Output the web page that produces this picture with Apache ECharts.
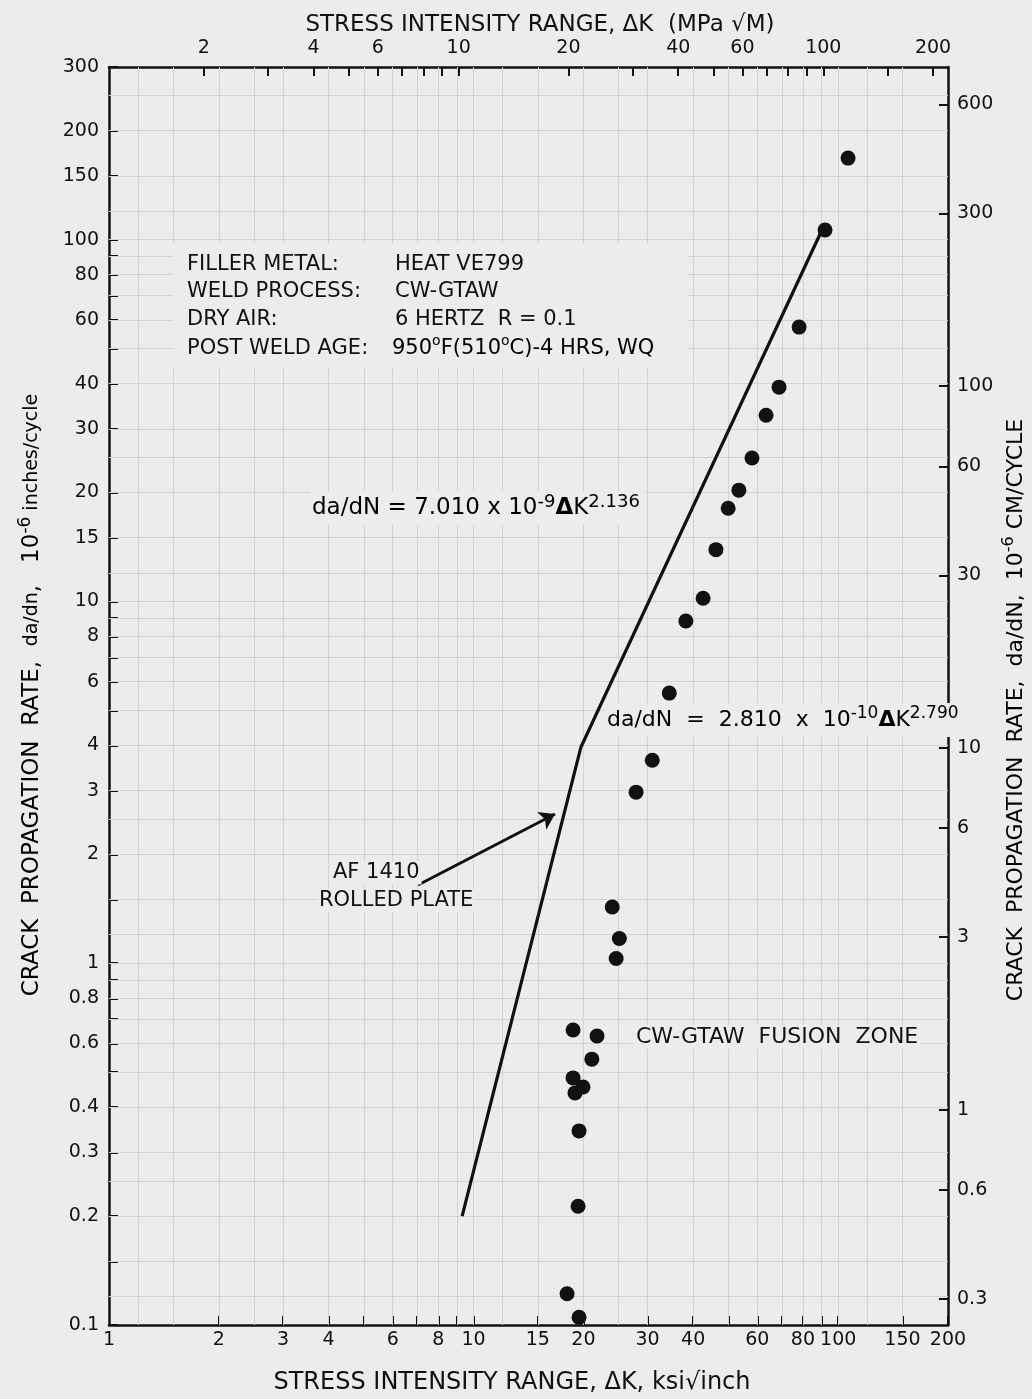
<!DOCTYPE html>
<html>
<head>
<meta charset="utf-8">
<script src="https://cdn.jsdelivr.net/npm/echarts@6/dist/echarts.min.js"></script>
<style>
html,body{margin:0;padding:0;background:#ececea;}
#c{width:1032px;height:1399px;}
</style>
</head>
<body>
<div id="c"></div>
<script>
// ---- data ----
const fusionDK = [106.4, 92.0, 78.1, 68.8, 63.4, 58.0, 53.4, 49.9, 46.2, 42.6, 38.2, 34.4, 30.9, 27.9, 24.0, 25.1, 24.6, 18.74, 21.8, 21.1, 18.74, 19.95, 18.97, 19.46, 19.34, 18.04, 19.46];
const fusionRate = [168, 106.3, 57.3, 39.1, 32.7, 24.9, 20.3, 18.1, 13.9, 10.2, 8.83, 5.58, 3.64, 2.97, 1.43, 1.17, 1.03, 0.654, 0.629, 0.543, 0.482, 0.455, 0.438, 0.344, 0.213, 0.122, 0.105];
const plateDK = [9.3, 19.7, 89.7];
const plateRate = [0.2, 3.96, 105];
const arrowFrom = [7.04, 1.645];
const arrowTo = [16.72, 2.585];

const bottomLabels = [1, 2, 3, 4, 6, 8, 10, 15, 20, 30, 40, 60, 80, 100, 150, 200];
const bottomTicks = [2, 3, 4, 5, 6, 7, 8, 9, 10, 15, 20, 30, 40, 50, 60, 70, 80, 90, 100, 150, 200];
const leftLabels = [0.1, 0.2, 0.3, 0.4, 0.6, 0.8, 1, 2, 3, 4, 6, 8, 10, 15, 20, 30, 40, 60, 80, 100, 150, 200, 300];
const leftTicks = [0.1, 0.15, 0.2, 0.3, 0.4, 0.5, 0.6, 0.7, 0.8, 0.9, 1, 1.5, 2, 3, 4, 5, 6, 7, 8, 9, 10, 15, 20, 30, 40, 50, 60, 70, 80, 90, 100, 150, 200, 300];
const topLabels = [2, 4, 6, 10, 20, 40, 60, 100, 200];
const topTicks = [2, 3, 4, 5, 6, 7, 8, 9, 10, 20, 30, 40, 50, 60, 70, 80, 90, 100, 150, 200];
const rightLabels = [0.3, 0.6, 1, 3, 6, 10, 30, 60, 100, 300, 600];
const gridMult = [1, 1.2, 1.5, 2, 2.5, 3, 4, 5, 6, 7, 8, 9];

const KSI_TO_MPA = 1.0988;   // ksi*sqrt(in) -> MPa*sqrt(m)
const IN_TO_CM = 2.54;

// ---- build ----
const fusionData = fusionDK.map((x, i) => [x, fusionRate[i]]);
const plateData = plateDK.map((x, i) => [x, plateRate[i]]);
function gridVals(decades, max) {
  const out = [];
  decades.forEach(d => gridMult.forEach(m => { const v = +(d * m).toPrecision(6); if (v <= max) out.push(v); }));
  return out;
}
const gridX = gridVals([1, 10, 100], 200).filter(v => v > 1 && v < 200);
const gridY = gridVals([0.1, 1, 10, 100], 300).filter(v => v > 0.1 && v < 300);
const fmt = v => String(+Number(v).toPrecision(6));

const FONT = 'DejaVu Sans';
const INK = '#111111';
const BG = '#ececea';

const chart = echarts.init(document.getElementById('c'), null, {renderer: 'canvas'});

function axisCommon(labels, ticks, pos) {
  return {
    type: 'log', logBase: 10, position: pos,
    axisLine: {show: true, onZero: false, lineStyle: {color: INK, width: 2.5}},
    axisTick: {show: true, inside: true, length: 9, lineStyle: {color: INK, width: 2}, customValues: ticks},
    axisLabel: {show: true, customValues: labels, formatter: v => fmt(v), color: INK, fontFamily: FONT, fontSize: 19},
    splitLine: {show: false}, minorTick: {show: false}, minorSplitLine: {show: false}
  };
}

const xBottom = Object.assign(axisCommon(bottomLabels, bottomTicks, 'bottom'), {min: 1, max: 200});
xBottom.axisLabel.margin = 6;
const xTop = Object.assign(axisCommon(topLabels, topTicks, 'top'), {min: KSI_TO_MPA, max: 200 * KSI_TO_MPA});
xTop.axisLabel.margin = 9;
const yLeft = Object.assign(axisCommon(leftLabels, leftTicks, 'left'), {min: 0.1, max: 300});
yLeft.axisLabel.margin = 10;
const yRight = Object.assign(axisCommon(rightLabels, rightLabels, 'right'), {min: 0.1 * IN_TO_CM, max: 300 * IN_TO_CM});
yRight.axisLabel.margin = 9;

const sup = {fontSize: 15, verticalAlign: 'top', lineHeight: 15, fontFamily: FONT, color: INK};
const n = {fontSize: 22, lineHeight: 30, fontFamily: FONT, color: INK};
const nb = Object.assign({}, n, {fontWeight: 'bold'});

function txt(x, y, text, opts) {
  return {
    type: 'text', x: x, y: y, z: 30,
    style: Object.assign({text: text, fill: INK, font: '21px "' + FONT + '"', textAlign: 'left', textVerticalAlign: 'middle'}, opts || {})
  };
}

const infoL = ['FILLER METAL:', 'WELD PROCESS:', 'DRY AIR:', 'POST WELD AGE:'];
const infoR = ['HEAT VE799', 'CW-GTAW', '6 HERTZ  R = 0.1', null];
const infoY = [265, 292, 320, 349];
const INFO_FONT = '21px "' + FONT + '"';
const graphics = [
  {type: 'rect', z: 25, shape: {x: 172, y: 243, width: 516, height: 125}, style: {fill: BG}},
];
infoL.forEach((t, i) => graphics.push(txt(187, infoY[i], t, {font: INFO_FONT})));
infoR.forEach((t, i) => { if (t) graphics.push(txt(395, infoY[i], t, {font: INFO_FONT})); });
graphics.push({
  type: 'text', x: 392, y: infoY[3], z: 30,
  style: {text: '{n|950}{s|o}{n|F(510}{s|o}{n|C)-4 HRS, WQ}', textVerticalAlign: 'middle',
    rich: {n: Object.assign({}, n, {fontSize: 21}), s: Object.assign({}, sup, {fontSize: 14})}}
});
// equations
graphics.push({
  type: 'text', x: 310, y: 508, z: 30,
  style: {text: '{n|da/dN = 7.010 x 10}{s|-9}{b|Δ}{n|K}{s|2.136}', textVerticalAlign: 'middle',
    backgroundColor: BG, padding: [2, 4, 2, 2],
    rich: {n: Object.assign({}, n, {fontSize: 23}), s: Object.assign({}, sup, {fontSize: 18, lineHeight: 18}), b: Object.assign({}, nb, {fontSize: 23})}}
});
graphics.push({
  type: 'text', x: 605, y: 720, z: 30,
  style: {text: '{n|da/dN  =  2.810  x  10}{s|-10}{b|Δ}{n|K}{s|2.790}', textVerticalAlign: 'middle',
    backgroundColor: BG, padding: [2, 2, 2, 2],
    rich: {n: n, s: Object.assign({}, sup, {fontSize: 17, lineHeight: 17}), b: nb}}
});
graphics.push(txt(331, 873, 'AF 1410', {backgroundColor: BG, padding: [1, 2]}));
graphics.push(txt(317, 901, 'ROLLED PLATE', {backgroundColor: BG, padding: [1, 2]}));
graphics.push(txt(634, 1037, 'CW-GTAW  FUSION  ZONE', {font: '22px "' + FONT + '"', backgroundColor: BG, padding: [1, 2]}));
// axis titles
graphics.push(txt(512, 1383, 'STRESS INTENSITY RANGE, ΔK, ksi√inch', {font: '24px "' + FONT + '"', textAlign: 'center'}));
graphics.push(txt(540, 25, 'STRESS INTENSITY RANGE, ΔK  (MPa √M)', {font: '23px "' + FONT + '"', textAlign: 'center'}));
graphics.push({
  type: 'text', x: 32, y: 695, rotation: Math.PI / 2, z: 30,
  style: {text: '{n|CRACK  PROPAGATION  RATE,  }{f|da/dn}{n|,   10}{s|-6}{u| inches/cycle}', textAlign: 'center', textVerticalAlign: 'middle',
    rich: {n: Object.assign({}, n, {fontSize: 23}), s: Object.assign({}, sup, {fontSize: 17, lineHeight: 17}), f: Object.assign({}, n, {fontSize: 19}), u: Object.assign({}, n, {fontSize: 19})}}
});
graphics.push({
  type: 'text', x: 1016, y: 710, rotation: Math.PI / 2, z: 30,
  style: {text: '{n|CRACK  PROPAGATION  RATE,  da/dN,  10}{s|-6}{n| CM/CYCLE}', textAlign: 'center', textVerticalAlign: 'middle',
    rich: {n: Object.assign({}, n, {fontSize: 22}), s: Object.assign({}, sup, {fontSize: 16, lineHeight: 16})}}
});

chart.setOption({
  backgroundColor: BG,
  animation: false,
  grid: {left: 109, right: 84, top: 67, bottom: 74, containLabel: false},
  xAxis: [xBottom, xTop],
  yAxis: [yLeft, yRight],
  series: [
    {
      name: 'paper', type: 'line', data: [], z: 1, silent: true,
      markLine: {
        silent: true, symbol: ['none', 'none'], label: {show: false}, animation: false,
        lineStyle: {color: '#d3d3d1', width: 1, type: 'solid'},
        emphasis: {disabled: true},
        data: gridX.map(v => ({xAxis: v})).concat(gridY.map(v => ({yAxis: v})))
      }
    },
    {
      name: 'AF 1410 ROLLED PLATE', type: 'line', data: plateData, z: 10,
      symbol: 'none', lineStyle: {color: INK, width: 3.2},
      markLine: {
        silent: true, symbol: ['none', 'arrow'], symbolSize: 15, label: {show: false},
        lineStyle: {color: INK, width: 3, type: 'solid'},
        itemStyle: {color: INK},
        data: [[{coord: arrowFrom}, {coord: arrowTo}]]
      }
    },
    {
      name: 'CW-GTAW FUSION ZONE', type: 'scatter', data: fusionData, z: 10,
      symbol: 'circle', symbolSize: 15, itemStyle: {color: INK, opacity: 1}
    }
  ],
  graphic: graphics
});
</script>
</body>
</html>
